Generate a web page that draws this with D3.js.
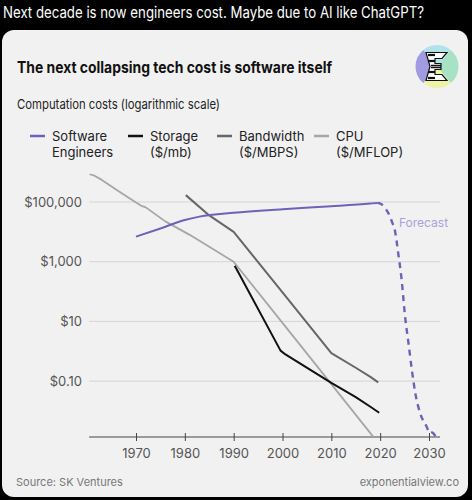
<!DOCTYPE html>
<html><head><meta charset="utf-8">
<script src="https://cdnjs.cloudflare.com/ajax/libs/d3/7.8.5/d3.min.js"></script>
<style>
html,body{margin:0;padding:0;background:#000;}
svg{display:block;}
text{font-family:Inter,"Liberation Sans",sans-serif;}
</style></head>
<body>
<script>
// ---- data ----
const xTickYears = [1970, 1980, 1990, 2000, 2010, 2020, 2030];
const yTickValues = [0.1, 10, 1000, 100000];
const yTickLabels = ["$0.10", "$10", "$1,000", "$100,000"];

const legendNames = [["Software", "Engineers"], ["Storage", "($/mb)"], ["Bandwidth", "($/MBPS)"], ["CPU", "($/MFLOP)"]];

const softwareYears = [1970, 1975, 1980, 1983, 1990, 2000, 2010, 2018, 2019.5];
const softwareValues = [6900, 13000, 25100, 32400, 43700, 57500, 72400, 89000, 93300];

const forecastYears = [2019.5, 2020.2, 2021, 2021.7, 2022.5, 2023, 2023.7, 2024.4, 2025.1, 2025.8, 2026.5, 2027.2, 2028.2, 2029.5, 2030.2, 2030.6, 2031.4];
const forecastValues = [93300, 85100, 63100, 41700, 20000, 11500, 1900, 245, 14.5, 1.86, 0.23, 0.039, 0.0083, 0.003, 0.0018, 0.0019, 0.00135];

const storageYears = [1990.2, 1990.5, 1999.6, 2000.6, 2010, 2015, 2018, 2019.8];
const storageValues = [724, 603, 1.05, 0.78, 0.087, 0.029, 0.0138, 0.0087];

const bandwidthYears = [1980.2, 1985, 1990, 2000, 2010, 2015, 2018, 2019.6];
const bandwidthValues = [170000, 35500, 10000, 93, 0.87, 0.28, 0.138, 0.091];

const cpuYears = [1960.5, 1961.5, 1963, 1967, 1970, 1971, 1972, 1976, 1981, 1985, 1990, 2000, 2010, 2018.6];
const cpuValues = [851000, 759000, 550000, 200000, 95500, 75900, 66100, 22400, 7940, 3160, 1000, 8.9, 0.079, 0.00135];

// ---- drawing ----
const W = 472, H = 500;
const svg = d3.select("body").append("svg").attr("width", W).attr("height", H);

svg.append("rect").attr("width", W).attr("height", H).attr("fill", "#000");

function fit(sel, w) {
  const n = sel.node().getComputedTextLength();
  if (Math.abs(n - w) > 1) sel.attr("textLength", w).attr("lengthAdjust", "spacingAndGlyphs");
  return sel;
}

fit(svg.append("text").attr("x", 3).attr("y", 18).attr("fill", "#fff")
  .attr("font-size", 15.5).text("Next decade is now engineers cost. Maybe due to AI like ChatGPT?"), 421);

// card
svg.append("rect").attr("x", 2).attr("y", 30).attr("width", 466).attr("height", 467)
  .attr("rx", 12).attr("fill", "#f1f1f1");

fit(svg.append("text").attr("x", 17).attr("y", 73).attr("fill", "#111")
  .attr("font-size", 15.5).attr("font-weight", 700).text("The next collapsing tech cost is software itself"), 315);

fit(svg.append("text").attr("x", 17).attr("y", 109).attr("fill", "#222")
  .attr("font-size", 13.5).text("Computation costs (logarithmic scale)"), 203);

// logo
const logo = svg.append("g").attr("transform", "translate(437,66.5)");
const R = 21.5;
const arc = d3.arc().innerRadius(0).outerRadius(R);
const sectors = [
  {a0: -Math.PI * 0.22, a1: Math.PI * 0.22, c: "#b3e3ea"},
  {a0: Math.PI * 0.22, a1: Math.PI * 0.78, c: "#a6e2c3"},
  {a0: Math.PI * 0.78, a1: Math.PI * 1.22, c: "#eef3a6"},
  {a0: Math.PI * 1.22, a1: Math.PI * 1.78, c: "#a19ce2"}
];
sectors.forEach(s => logo.append("path").attr("d", arc({startAngle: s.a0, endAngle: s.a1})).attr("fill", s.c));
logo.append("path").attr("d", "M-11,-14 L10,-14 L5,-8 L-2,-8 L-2,-3 L4,-3 L4,3 L-2,3 L-2,8 L5,8 L10,14 L-11,14 L-7,0 Z")
  .attr("fill", "#fff").attr("stroke", "#111").attr("stroke-width", 1.2);
[-11.5, -5.5, 5.5, 11.5].forEach(yy => logo.append("line").attr("x1", -9).attr("x2", -2).attr("y1", yy).attr("y2", yy)
  .attr("stroke", "#111").attr("stroke-width", 2.2));
[-1, 1].forEach(yy => logo.append("line").attr("x1", -6).attr("x2", 4).attr("y1", yy).attr("y2", yy)
  .attr("stroke", "#111").attr("stroke-width", 1.5));

// legend
const colors = ["#6b63b8", "#111111", "#666666", "#a6a6a6"];
const legX = [30, 128, 217, 314];
legendNames.forEach((nm, i) => {
  const g = svg.append("g");
  g.append("line").attr("x1", legX[i]).attr("x2", legX[i] + 15).attr("y1", 136).attr("y2", 136)
    .attr("stroke", colors[i]).attr("stroke-width", 2.5);
  nm.forEach((t, j) => g.append("text").attr("x", legX[i] + 22).attr("y", 141 + j * 16)
    .attr("font-size", 13).attr("fill", "#222").text(t));
});

// scales
const x = d3.scaleLinear().domain([1970, 2030]).range([136, 429]);
const y = d3.scaleLog().domain([Math.pow(10, -2.873), 1e6]).range([437, 172.15]);
const xLeft = x(1960.4), xRight = 440;

// grid
svg.append("g").selectAll("line").data(yTickValues).join("line")
  .attr("x1", xLeft).attr("x2", xRight).attr("y1", d => y(d)).attr("y2", d => y(d))
  .attr("stroke", "#d5d5d5").attr("stroke-width", 1);

// y axis labels
const yAxis = d3.axisLeft(y).tickValues(yTickValues).tickSize(0).tickPadding(0)
  .tickFormat((d, i) => yTickLabels[i]);
const gy = svg.append("g").attr("transform", "translate(82,0)").call(yAxis);
gy.select(".domain").remove();
gy.selectAll("text").attr("font-size", 13).attr("fill", "#555").attr("font-family", "Inter,'Liberation Sans',sans-serif");

// x axis
svg.append("line").attr("x1", xLeft).attr("x2", xRight).attr("y1", 437).attr("y2", 437)
  .attr("stroke", "#444").attr("stroke-width", 1);
const xAxis = d3.axisBottom(x).tickValues(xTickYears).tickSize(4).tickPadding(8).tickFormat(d3.format("d"));
const gx = svg.append("g").attr("transform", "translate(0,437)").call(xAxis);
gx.select(".domain").remove();
gx.selectAll(".tick line").attr("y1", -4).attr("y2", 4).attr("stroke", "#444");
gx.selectAll("text").attr("font-size", 13).attr("fill", "#555").attr("font-family", "Inter,'Liberation Sans',sans-serif");

// lines
const lineStraight = d3.line().x(d => x(d[0])).y(d => y(d[1]));
const lineSmooth = d3.line().x(d => x(d[0])).y(d => y(d[1])).curve(d3.curveMonotoneX);
const zip = (a, b) => a.map((v, i) => [v, b[i]]);

const series = [
  {d: zip(cpuYears, cpuValues), c: colors[3], w: 1.8, l: lineStraight},
  {d: zip(bandwidthYears, bandwidthValues), c: colors[2], w: 2, l: lineStraight},
  {d: zip(storageYears, storageValues), c: colors[1], w: 2, l: lineStraight},
  {d: zip(softwareYears, softwareValues), c: colors[0], w: 2, l: lineSmooth}
];
series.forEach(s => svg.append("path").attr("d", s.l(s.d)).attr("fill", "none")
  .attr("stroke", s.c).attr("stroke-width", s.w).attr("stroke-linejoin", "round"));

svg.append("path").attr("d", lineSmooth(zip(forecastYears, forecastValues))).attr("fill", "none")
  .attr("stroke", colors[0]).attr("stroke-width", 2.4).attr("stroke-dasharray", "6,5");

svg.append("text").attr("x", 399).attr("y", 227).attr("font-size", 12).attr("fill", "#a8a3d8").text("Forecast");

// footer
svg.append("text").attr("x", 16).attr("y", 486).attr("font-size", 11).attr("fill", "#777").text("Source: SK Ventures");
svg.append("text").attr("x", 459).attr("y", 486).attr("text-anchor", "end").attr("font-size", 11).attr("fill", "#777").text("exponentialview.co");
</script>
</body></html>
